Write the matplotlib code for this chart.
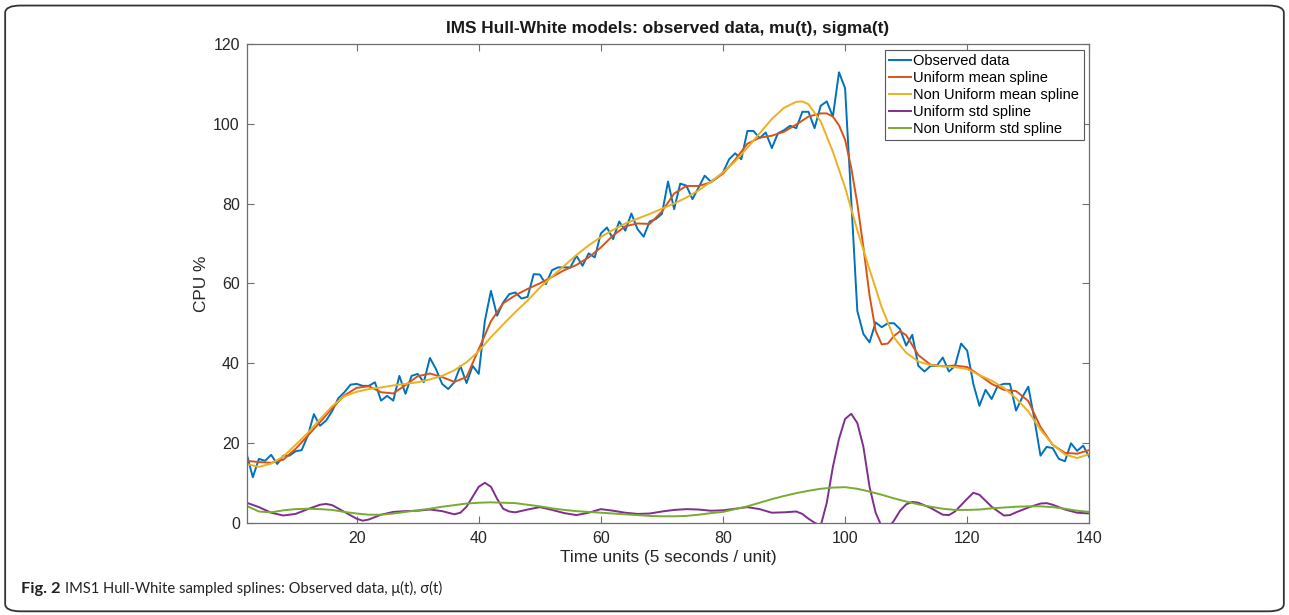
import numpy as np
import matplotlib
matplotlib.use("Agg")
from matplotlib import pyplot as plt
from matplotlib.patches import FancyBboxPatch

# observed CPU samples, one per time unit (2..140)
t_obs = np.arange(2, 141)
cpu_obs = [
    17.2, 11.4, 16.0, 15.5, 17.0, 14.7, 16.8, 16.8, 17.9, 18.2,
    21.8, 27.2, 24.3, 25.6, 28.0, 31.2, 32.7, 34.6, 34.8, 34.3,
    34.3, 35.2, 30.6, 31.8, 30.6, 36.8, 32.3, 36.8, 37.3, 35.2,
    41.3, 38.5, 34.8, 33.5, 35.2, 39.3, 35.0, 39.3, 37.3, 50.6,
    58.1, 51.9, 55.2, 57.3, 57.7, 56.2, 56.6, 62.3, 62.2, 59.8,
    63.3, 64.0, 64.0, 64.0, 66.9, 64.4, 67.5, 66.5, 72.5, 74.0,
    71.1, 75.5, 73.2, 77.5, 73.6, 71.7, 75.5, 76.1, 77.4, 85.5,
    78.6, 85.0, 84.5, 81.1, 84.0, 87.0, 85.5, 86.5, 87.8, 91.1,
    92.6, 91.1, 98.2, 98.2, 96.4, 97.8, 93.9, 97.6, 98.4, 99.5,
    98.9, 103.0, 103.0, 98.9, 104.5, 105.6, 101.8, 112.9, 108.9, 81.0,
    53.1, 47.3, 45.2, 50.2, 49.0, 50.0, 50.0, 48.5, 44.4, 47.1,
    39.3, 37.9, 39.3, 39.3, 41.4, 37.9, 39.3, 44.9, 43.1, 34.8,
    29.3, 33.3, 31.0, 34.3, 34.8, 34.8, 28.1, 31.4, 34.1, 26.0,
    16.8, 19.0, 18.7, 16.0, 15.4, 19.9, 18.0, 19.3, 16.4,
]

# uniform mean spline (sampled)
t_umean = [2, 4, 6, 8, 10, 12, 14, 16, 18, 20, 22, 24, 26, 28, 30, 32, 34, 36, 38, 40,
           42, 44, 46, 48, 50, 52, 54, 56, 58, 60, 62, 64, 66, 68, 70, 72, 74, 76, 78, 80,
           82, 84, 86, 88, 90, 92, 94, 96, 97, 98, 99, 100, 101, 102, 103, 104, 105, 106,
           107, 108, 109, 110, 112, 114, 116, 118, 120, 122, 124, 126, 128, 130, 132, 134,
           136, 138, 140]
umean = [15.5, 15.2, 15.0, 15.8, 18.5, 21.8, 25.2, 28.7, 31.9, 33.8, 34.2, 32.7, 32.4,
         34.5, 36.7, 37.4, 36.5, 35.3, 36.5, 43.5, 50.5, 55.0, 57.0, 58.6, 60.0, 61.6,
         63.3, 64.6, 66.5, 69.0, 72.0, 74.3, 75.0, 74.9, 78.0, 82.5, 84.4, 84.4, 85.3,
         87.5, 91.0, 95.0, 96.5, 97.0, 98.0, 99.8, 101.8, 102.6, 102.6, 101.8, 99.6,
         96.0, 89.0, 80.0, 69.0, 57.0, 48.1, 44.7, 44.9, 46.8, 48.0, 47.0, 42.0, 39.6,
         39.2, 39.4, 39.0, 37.0, 34.8, 33.3, 33.0, 30.5, 24.0, 19.5, 17.5, 17.3, 18.2]

# non uniform mean spline (sampled)
t_nmean = [2, 4, 6, 8, 10, 12, 14, 16, 18, 20, 22, 24, 26, 28, 30, 32, 34, 36, 38, 40,
           42, 44, 46, 48, 50, 52, 54, 56, 58, 60, 62, 64, 66, 68, 70, 72, 74, 76, 78, 80,
           82, 84, 86, 88, 90, 92, 93, 94, 96, 98, 100, 102, 104, 106, 108, 110, 112, 114,
           116, 118, 120, 122, 124, 126, 128, 130, 132, 134, 136, 138, 140]
nmean = [14.7, 14.0, 14.8, 16.6, 19.5, 22.5, 25.9, 29.2, 31.7, 32.8, 33.5, 33.9, 34.4,
         34.8, 35.2, 35.9, 36.8, 38.2, 40.2, 43.0, 46.5, 49.7, 52.8, 55.7, 58.9, 61.7,
         64.4, 67.1, 69.5, 71.6, 73.4, 75.0, 76.2, 77.4, 78.7, 80.0, 81.5, 83.3, 85.4,
         87.8, 90.6, 94.0, 97.6, 101.2, 104.0, 105.5, 105.6, 104.9, 100.6, 93.0, 84.0,
         73.3, 63.5, 54.0, 46.4, 42.6, 40.4, 39.5, 39.2, 39.0, 38.5, 37.0, 35.6, 33.8,
         31.2, 27.9, 23.3, 19.6, 17.1, 16.2, 17.2]

# uniform std spline (sampled)
t_ustd = [2, 4, 6, 8, 10, 12, 14, 15, 16, 18, 20, 21, 22, 24, 26, 28, 30, 32, 34, 36,
          37, 38, 39, 40, 41, 42, 43, 44, 45, 46, 48, 50, 52, 54, 56, 58, 60, 62, 64, 66,
          68, 70, 72, 74, 76, 78, 80, 82, 84, 86, 88, 90, 92, 93, 94, 95, 96, 97, 98, 99,
          100, 101, 102, 103, 104, 105, 106, 107, 108, 109, 110, 111, 112, 114, 116, 117,
          118, 120, 121, 122, 124, 126, 127, 128, 130, 132, 133, 134, 136, 138, 140]
ustd = [5.0, 3.9, 2.5, 1.8, 2.2, 3.4, 4.5, 4.7, 4.4, 2.7, 1.0, 0.5, 0.8, 2.0, 2.7, 2.9,
        3.0, 3.3, 2.9, 2.1, 2.5, 4.0, 6.5, 9.0, 10.0, 9.0, 6.0, 3.5, 2.8, 2.6, 3.3, 3.9,
        3.2, 2.4, 1.9, 2.5, 3.4, 3.0, 2.5, 2.2, 2.3, 2.8, 3.2, 3.4, 3.3, 3.0, 3.1, 3.5,
        3.9, 3.4, 2.5, 2.6, 2.8, 2.2, 1.0, 0.0, -0.8, 5.0, 14.0, 21.0, 26.0, 27.3, 25.0,
        19.0, 9.0, 2.5, -1.0, -1.5, 0.5, 3.0, 4.6, 5.2, 5.0, 3.7, 2.0, 1.9, 2.8, 6.0,
        7.5, 7.0, 4.0, 1.8, 1.9, 2.6, 3.8, 4.8, 4.9, 4.5, 3.3, 2.5, 2.3]

# non uniform std spline (sampled)
t_nstd = list(range(2, 141, 2))
nstd = [4.2, 2.8, 2.6, 3.1, 3.4, 3.5, 3.4, 3.2, 2.7, 2.3, 2.0, 2.0, 2.3, 2.7, 3.1,
        3.5, 4.0, 4.4, 4.8, 5.0, 5.1, 5.0, 4.9, 4.5, 4.1, 3.6, 3.2, 2.9, 2.7, 2.5,
        2.3, 2.1, 1.9, 1.7, 1.6, 1.6, 1.7, 2.0, 2.4, 2.7, 3.4, 4.1, 5.0, 5.9, 6.7,
        7.4, 8.0, 8.5, 8.8, 8.9, 8.5, 7.8, 7.0, 6.1, 5.3, 4.6, 4.0, 3.5, 3.2, 3.2,
        3.3, 3.6, 3.8, 4.0, 4.1, 4.1, 3.9, 3.5, 3.0, 2.7]

plt.rcParams["font.family"] = ["Liberation Sans", "DejaVu Sans"]

fig = plt.figure(figsize=(12.89, 6.15), dpi=100)
ax = fig.add_axes([0.1914, 0.1501, 0.6537, 0.7784])

lw = 1.4
ax.plot(t_obs, cpu_obs, color="#0072BD", lw=lw, label="Observed data")
ax.plot(t_umean, umean, color="#D95319", lw=lw, label="Uniform mean spline")
ax.plot(t_nmean, nmean, color="#EDB120", lw=lw, label="Non Uniform mean spline")
ax.plot(t_ustd, ustd, color="#7E2F8E", lw=lw, label="Uniform std spline")
ax.plot(t_nstd, nstd, color="#77AC30", lw=lw, label="Non Uniform std spline")

ax.set_xlim(2, 140)
ax.set_ylim(0, 120)
ax.set_xticks(range(20, 141, 20))
ax.set_yticks(range(0, 121, 20))
for s in ax.spines.values():
    s.set_color("#6e6e6e")
    s.set_linewidth(0.9)
ax.tick_params(direction="in", top=True, right=True, length=5, width=0.8,
               color="#6e6e6e", labelsize=11.5, labelcolor="#262626")
ax.tick_params(axis="x", pad=6)
ax.tick_params(axis="y", pad=5)

ax.set_title("IMS Hull-White models: observed data, mu(t), sigma(t)",
             fontsize=12.4, fontweight="bold", pad=8, color="#1a1a1a")
ax.set_xlabel("Time units (5 seconds / unit)", fontsize=12.4, labelpad=3, color="#262626")
ax.set_ylabel("CPU %", fontsize=12.4, labelpad=3, color="#262626")

leg = ax.legend(loc="upper right", fontsize=10.5, handlelength=1.5, handletextpad=0.15,
                labelspacing=0.2, borderpad=0.3, borderaxespad=0.4, fancybox=False,
                framealpha=1, edgecolor="#555555")
leg.get_frame().set_linewidth(0.8)

# rounded frame around the whole figure
frame = FancyBboxPatch((0.004, 0.006), 0.992, 0.985, boxstyle="round,pad=0,rounding_size=0.012",
                       transform=fig.transFigure, fill=False, edgecolor="#333333", lw=1.3)
fig.patches.append(frame)

# caption
fig.canvas.draw()
r = fig.canvas.get_renderer()
cap_fam = ["Lato", "DejaVu Sans"]
t1 = fig.text(0.016, 0.036, "Fig. 2", fontsize=11.8, fontweight="bold",
              family=cap_fam, color="#222222")
bb = t1.get_window_extent(r)
fig.text(bb.x1 / fig.bbox.width + 0.004, 0.036,
         "IMS1 Hull-White sampled splines: Observed data, \u03bc(t), \u03c3(t)",
         fontsize=10.6, family=cap_fam, color="#222222")

fig.savefig("out.png", dpi=100)
